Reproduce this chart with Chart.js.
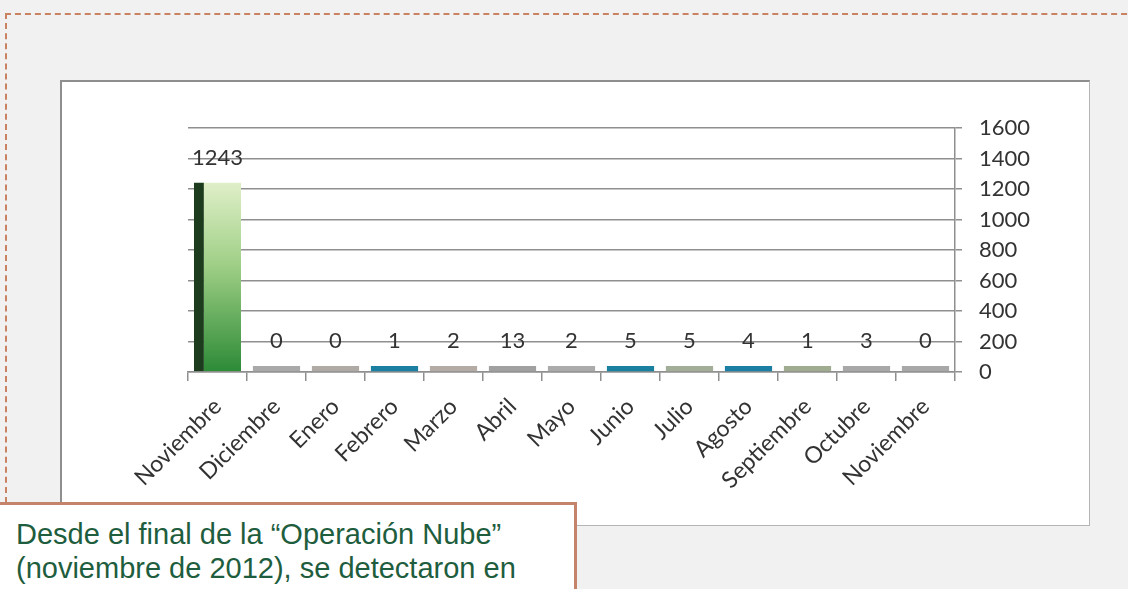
<!DOCTYPE html>
<html>
<head>
<meta charset="utf-8">
<script src="https://cdn.jsdelivr.net/npm/chart.js@4.4.1/dist/chart.umd.min.js"></script>
<style>
  body { margin: 0; width: 1128px; height: 589px; overflow: hidden; position: relative; background: #f1f1f1; }
  #frame { position: absolute; left: 5px; top: 13px; width: 1140px; height: 488px;
           border-top: 2px dashed #c98363; border-left: 2px dashed #c98363; }
  #box { position: absolute; left: 60px; top: 80px; width: 1027px; height: 443px; background: #fff;
         border: 1px solid #b5b5b5; border-left: 2px solid #8e8e8e; border-top: 2px solid #8e8e8e; }
  #chart { position: absolute; left: 0; top: 0; }
  #note { position: absolute; left: -3px; top: 502px; width: 580px; height: 120px; background: #fff;
          border: 3px solid #c5846a; box-sizing: border-box; padding: 12px 0 0 16px; white-space: nowrap;
          font-family: "Liberation Sans", Arial, sans-serif; font-size: 29px; line-height: 34px; color: #1e5d3d; }
</style>
</head>
<body>
<div id="frame"></div>
<div id="box"></div>
<canvas id="chart" width="1128" height="589"></canvas>
<div id="note">Desde el final de la “Operación Nube”<br>(noviembre de 2012), se detectaron en</div>
<script>
const months = ['Noviembre', 'Diciembre', 'Enero', 'Febrero', 'Marzo', 'Abril', 'Mayo',
  'Junio', 'Julio', 'Agosto', 'Septiembre', 'Octubre', 'Noviembre'];
const cases = [1243, 0, 0, 1, 2, 13, 2, 5, 5, 4, 1, 3, 0];
const yTicks = [0, 200, 400, 600, 800, 1000, 1200, 1400, 1600];
const barColors = ['green', '#a9a9a9', '#b0aaa5', '#1b7fa1', '#b3aba4', '#a0a0a0', '#ababab',
  '#1a80a0', '#a3ae98', '#1a7fa3', '#a0ac90', '#a8a8a8', '#a8a8a8'];

// puts the number above each bar
const valueLabels = {
  id: 'valueLabels',
  afterDatasetsDraw(chart) {
    const ctx = chart.ctx;
    const meta = chart.getDatasetMeta(0);
    ctx.save();
    ctx.font = '22px Lato';
    ctx.fillStyle = '#333';
    ctx.textAlign = 'center';
    ctx.textBaseline = 'bottom';
    meta.data.forEach((bar, i) => {
      ctx.fillText(String(cases[i]), bar.x, bar.y - 14);
    });
    ctx.restore();
  }
};

function barFill(context) {
  const i = context.dataIndex;
  if (i !== 0) return barColors[i];
  const area = context.chart.chartArea;
  if (!area) return '#4a9a45';
  const g = context.chart.ctx.createLinearGradient(0, area.top + 50, 0, area.bottom);
  g.addColorStop(0, '#e3f1cc');
  g.addColorStop(0.45, '#9fcf86');
  g.addColorStop(1, '#2c8a36');
  return g;
}

new Chart(document.getElementById('chart').getContext('2d'), {
  type: 'bar',
  data: {
    labels: months,
    datasets: [{
      data: cases,
      backgroundColor: barFill,
      borderColor: '#1d3b1d',
      borderWidth: (c) => c.dataIndex === 0 ? { left: 10, top: 0, right: 0, bottom: 0 } : 0,
      borderSkipped: false,
      minBarLength: 6,
      barPercentage: 0.8,
      categoryPercentage: 1
    }]
  },
  options: {
    responsive: false,
    animation: false,
    layout: { padding: { top: 128, left: 188, right: 93, bottom: 87 } },
    plugins: { legend: { display: false }, tooltip: { enabled: false } },
    scales: {
      x: {
        afterFit: (scale) => { scale.height = 130; },
        grid: { drawOnChartArea: false, drawTicks: true, tickLength: 9, color: '#8f8f8f', lineWidth: 1.5 },
        border: { color: '#8f8f8f', width: 1.5 },
        ticks: { minRotation: 45, maxRotation: 45, padding: 12, color: '#333', font: { family: 'Lato', size: 23 } }
      },
      y: {
        position: 'right',
        min: yTicks[0],
        max: yTicks[yTicks.length - 1],
        afterFit: (scale) => { scale.width = 80; },
        afterBuildTicks: (scale) => { scale.ticks = yTicks.map(v => ({ value: v })); },
        grid: { color: '#8f8f8f', lineWidth: 1.5, tickLength: 7 },
        border: { color: '#8f8f8f', width: 1.5 },
        ticks: { padding: 17, color: '#333', font: { family: 'Lato', size: 22 }, callback: (v) => String(v) }
      }
    }
  },
  plugins: [valueLabels]
});
</script>
</body>
</html>
